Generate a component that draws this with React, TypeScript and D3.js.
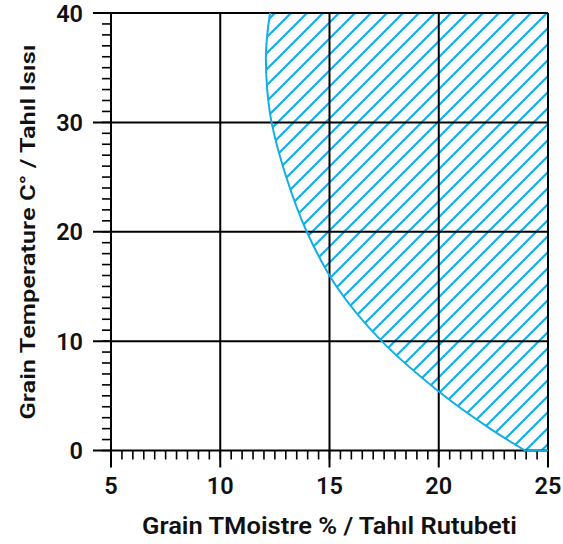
import React from "react";
import * as d3 from "d3";

const xTicks = [5, 10, 15, 20, 25];
const yTicks = [0, 10, 20, 30, 40];
const xMinor = d3.range(5, 25.01, 0.5);
const yMinor = d3.range(0, 40.01, 1);
// boundary of the hatched (unsafe) region
const boundaryTemp = [40, 38, 36, 33, 30, 25, 20, 15, 10, 5, 2, 0];
const boundaryMoist = [12.28, 12.15, 12.09, 12.15, 12.35, 13.02, 13.96, 15.32, 17.39, 20.25, 22.35, 23.95];
const xTitle = "Grain TMoistre % / Tahıl Rutubeti";
const yTitle = "Grain Temperature C° / Tahıl Isısı";

const W = 563;
const H = 544;
const BLUE = "#14ADE6";
const FONT = "Roboto, 'Noto Sans', sans-serif";

export default function App() {
  const x = d3.scaleLinear().domain([5, 25]).range([111, 548]);
  const y = d3.scaleLinear().domain([0, 40]).range([450.5, 13]);
  const pts: [number, number][] = boundaryTemp.map((t, i) => [boundaryMoist[i], t]);
  const line = d3
    .line<[number, number]>()
    .x((d) => x(d[0]))
    .y((d) => y(d[1]))
    .curve(d3.curveCatmullRom.alpha(0.5));
  const curvePath = line(pts) || "";
  const areaPath = `${curvePath}L${x(25)},${y(0)}L${x(25)},${y(40)}Z`;
  const outlinePath = `${curvePath}L${x(25)},${y(0)}`;

  return (
    <svg width={W} height={H} style={{ position: "absolute", left: 0, top: 0, background: "#fff" }}>
      <defs>
        <pattern id="hatch" patternUnits="userSpaceOnUse" width={16} height={16}>
          <path d="M-4,4L4,-4M0,16L16,0M12,20L20,12" stroke={BLUE} strokeWidth={2.2} />
        </pattern>
      </defs>
      <path d={areaPath} fill="url(#hatch)" stroke="none" />
      {/* minor ticks */}
      {xMinor.map((v) => (
        <line key={"xm" + v} x1={x(v)} x2={x(v)} y1={y(0)} y2={y(0) + 9} stroke="#000" strokeWidth={1.6} />
      ))}
      {yMinor.map((v) => (
        <line key={"ym" + v} x1={x(5) - 9} x2={x(5)} y1={y(v)} y2={y(v)} stroke="#000" strokeWidth={1.6} />
      ))}
      {/* major grid */}
      {xTicks.map((v) => (
        <line key={"xg" + v} x1={x(v)} x2={x(v)} y1={y(40)} y2={y(0) + 17} stroke="#000" strokeWidth={2} />
      ))}
      {yTicks.map((v) => (
        <line key={"yg" + v} x1={x(5) - 18} x2={x(25)} y1={y(v)} y2={y(v)} stroke="#000" strokeWidth={2} />
      ))}
      <path d={outlinePath} fill="none" stroke={BLUE} strokeWidth={2} />
      {/* labels */}
      {xTicks.map((v) => (
        <text key={"xl" + v} x={x(v)} y={494} textAnchor="middle" fontFamily={FONT} fontWeight={600} fontSize={23.5} fill="#111">
          {v}
        </text>
      ))}
      {yTicks.map((v) => (
        <text key={"yl" + v} x={83} y={y(v) + 8.5} textAnchor="end" fontFamily={FONT} fontWeight={600} fontSize={23.5} fill="#111">
          {v}
        </text>
      ))}
      <text
        x={(x(5) + x(25)) / 2}
        y={534}
        textAnchor="middle"
        fontFamily={FONT}
        fontWeight={600}
        fontSize={23}
        fill="#111"
        textLength={375}
        lengthAdjust="spacingAndGlyphs"
      >
        {xTitle}
      </text>
      <text
        transform={`translate(35,232) rotate(-90)`}
        textAnchor="middle"
        fontFamily={FONT}
        fontWeight={600}
        fontSize={21}
        fill="#111"
        textLength={375}
        lengthAdjust="spacingAndGlyphs"
      >
        {yTitle}
      </text>
    </svg>
  );
}
